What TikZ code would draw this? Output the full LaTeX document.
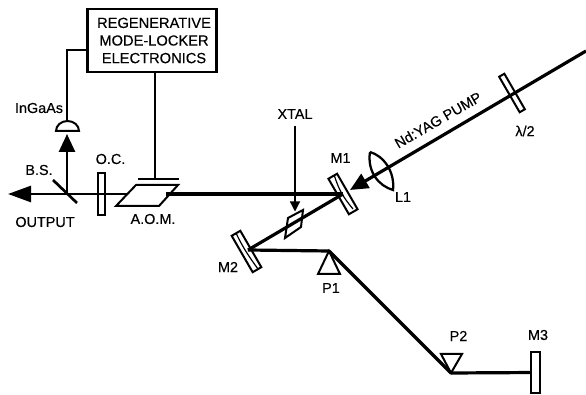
\documentclass[tikz,border=0pt]{standalone}
\usepackage{fontspec}
\setmainfont[FakeBold=0.3]{Liberation Sans}
\usetikzlibrary{arrows.meta}
\tikzset{every picture/.style={line width=0.75pt}}
\tikzset{
  lbl/.style={inner sep=0pt,font=\fontsize{10.8}{13}\selectfont},
  beam/.style={line width=2.4pt},
  thinbeam/.style={line width=2pt},
  wire/.style={line width=2pt},
  plate/.style n args={2}{draw,line width=1.5pt,inner sep=0pt,minimum width=#1*0.75pt,minimum height=#2*0.75pt},
  prism/.style={draw,line width=1.5pt,line join=miter},
  bigtip/.style={-{Triangle[length=18*0.75pt,width=16*0.75pt]}},
}
\begin{document}
\begin{tikzpicture}[x=0.75pt,y=0.75pt,yscale=-1]
	\useasboundingbox (0,0) rectangle (586,395);
	\node (elec) [draw,line width=1.8pt,minimum width=97pt,minimum height=47pt,align=center,inner sep=0pt,font=\fontsize{11}{13.2}\selectfont] at (152,40.5) {\hspace*{3pt}REGENERATIVE\\\hspace*{3pt}MODE-LOCKER\\\hspace*{3pt}ELECTRONICS};
	\coordinate (wirecorner) at (67,50);
	\coordinate (detector) at (67,134);
	\coordinate (dometop) at (67,121);
	\coordinate (bs) at (67,194);
	\coordinate (bs1) at (53,180);
	\coordinate (bs2) at (77,203);
	\coordinate (outend) at (8,194);
	\coordinate (aomin) at (128,194);
	\coordinate (aomout) at (166,194);
	\coordinate (m1hit) at (343,194);
	\coordinate (m2hit) at (248,250);
	\coordinate (p1) at (329,251);
	\coordinate (p2) at (451,373);
	\coordinate (pumpstart) at (586,51);
	\coordinate (pumpend) at (350,190);
	\coordinate (aomtop) at (155,179);
	\coordinate (aoml) at (138,179);
	\coordinate (aomr) at (179,179);
	\coordinate (xtalstart) at (295,126);
	\coordinate (lenstop) at (370,152);
	\coordinate (lensbot) at (393,190);
	\node (oc) [plate={42}{7},rotate=90] at (101,194) {};
	\node (m1) [plate={41}{10},rotate=-60] at (343,194) {};
	\node (m2) [plate={42}{10},rotate=-60] at (246.5,251.5) {};
	\node (halfwave) [plate={41}{6},rotate=-60] at (512,93) {};
	\node (m3) [plate={41}{9},rotate=90] at (535.5,372.5) {};
	\node (xtal) [inner sep=0pt,minimum size=0pt] at (295,212) {};
	% beams
	\draw [wire] (elec.west |- wirecorner) -- (wirecorner) -- (dometop);
	\draw [wire] (elec.south -| aomtop) -- (aomtop);
	\draw [wire] (aoml) -- (aomr);
	\draw [wire,bigtip] (bs) -- (detector);
	\draw [thinbeam,-{Triangle[length=23*0.75pt,width=16*0.75pt]}] (bs) -- (outend);
	\draw [thinbeam] (bs) -- (aomin);
	\draw [beam] (aomout) -- (m1hit);
	\draw [beam] (m1hit) -- (m2hit);
	\draw [beam] (m2hit) -- (p1);
	\draw [beam] (p1) -- (p2);
	\draw [beam] (p2) -- (m3);
	\draw [beam,bigtip] (pumpstart) -- (pumpend);
	\draw [wire] (bs1) -- (bs2);
	\draw [line width=0.9pt,-{Triangle[length=10*0.75pt,width=10*0.75pt]}] (xtalstart) -- (xtal);
	% optics
	\draw [prism] (116,206) -- (136,185) -- (178,185) -- (159,206) -- cycle;
	\draw [prism] (288,218) -- (303,210) -- (301,227) -- (285,238) -- cycle;
	\draw [prism] (329,251) -- (340,274) -- (318,274) -- cycle;
	\draw [prism] (441,354) -- (462,354) -- (451,373) -- cycle;
	\draw [prism,fill=white] (56,131) arc (180:360:11.5 and 10) -- cycle;
	\draw [line width=1.7pt] (lenstop) .. controls (367,172) and (379,186) .. (lensbot) .. controls (395,172) and (384,156) .. (lenstop);
	\draw [line width=0.9pt] (334.5,176) .. controls (339,190) and (343,197) .. (353,209);
	\draw [line width=0.9pt] (236,233) .. controls (243,248) and (250,258) .. (258,269);
	% labels
	\node (lblingaas) [lbl] at (39,108) {InGaAs};
	\node (lblbs) [lbl] at (39,170) {B.S.};
	\node (lbloc) [lbl] at (110.5,159) {O.C.};
	\node (lbloutput) [lbl] at (45,222) {OUTPUT};
	\node (lblaom) [lbl] at (153,219) {A.O.M.};
	\node (lblxtal) [lbl] at (295,114) {XTAL};
	\node (lblmone) [lbl] at (340.5,158) {M1};
	\node (lblmtwo) [lbl] at (228,267) {M2};
	\node (lbllone) [lbl] at (403,197) {L1};
	\node (lblpone) [lbl] at (331,288) {P1};
	\node (lblptwo) [lbl] at (458.5,336) {P2};
	\node (lblmthree) [lbl] at (538,335) {M3};
	\node (lblhalf) [lbl] at (525,131) {λ/2};
	\node (lblpump) [lbl,rotate=30] at (438,120) {Nd:YAG PUMP};
\end{tikzpicture}
\end{document}
